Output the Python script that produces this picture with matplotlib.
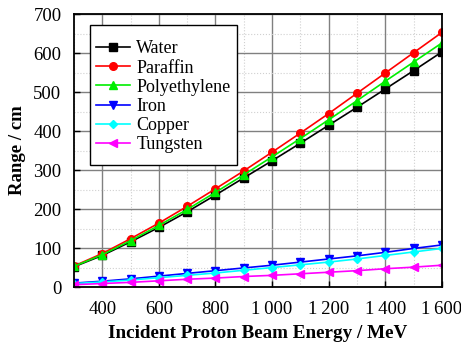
import matplotlib
matplotlib.use("Agg")
import matplotlib.pyplot as plt
from matplotlib.path import Path
from matplotlib.ticker import MultipleLocator, FuncFormatter

energy = [300, 400, 500, 600, 700, 800, 900, 1000, 1100, 1200, 1300, 1400, 1500, 1600]
water = [52, 81, 116, 153, 193, 236, 280, 324, 369, 415, 461, 508, 555, 603]
paraffin = [54, 86, 124, 164, 207, 252, 298, 346, 395, 445, 497, 549, 601, 653]
polyethylene = [53, 83, 119, 158, 199, 243, 288, 334, 381, 429, 478, 528, 577, 626]
iron = [10, 15, 21, 28, 35, 42, 49, 56, 64, 72, 80, 89, 99, 108]
copper = [9, 13, 18, 24, 30, 36, 43, 50, 57, 64, 72, 81, 90, 99]
tungsten = [6, 9, 12, 16, 20, 23, 27, 30, 34, 38, 42, 47, 51, 56]

series = [
    ("Water", water, "black", "s"),
    ("Paraffin", paraffin, "#ff0000", "o"),
    ("Polyethylene", polyethylene, "#00ee00", "^"),
    ("Iron", iron, "#0000ff", "v"),
    ("Copper", copper, "#00ffff", "D"),
    ("Tungsten", tungsten, "#ff00ff", "<"),
]

plt.rcParams['font.family'] = ['Liberation Serif', 'DejaVu Serif']
fig = plt.figure(figsize=(4.61, 3.45), dpi=100)
ax = fig.add_axes([0.1605, 0.168, 0.798, 0.791])

for name, vals, col, mk in series:
    ms = 4.5 if mk == "D" else 5.5
    ax.plot(energy, vals, color=col, marker=mk, markersize=ms, linewidth=1.2, label=name)

ax.set_xlim(300, 1600)
ax.set_ylim(0, 700)
ax.xaxis.set_major_locator(MultipleLocator(200))
ax.xaxis.set_minor_locator(MultipleLocator(100))
ax.yaxis.set_major_locator(MultipleLocator(100))
ax.yaxis.set_minor_locator(MultipleLocator(50))

def fmt(v, pos):
    v = int(round(v))
    if v >= 1000:
        return "%d\u2009%03d" % (v // 1000, v % 1000)
    return "%d" % v
ax.xaxis.set_major_formatter(FuncFormatter(fmt))

ax.grid(which='major', color='#808080', linewidth=1.0, linestyle='-')
ax.grid(which='minor', color='#d0d0d0', linewidth=0.8, linestyle=':')
ax.set_axisbelow(True)
ax.tick_params(which='major', direction='in', length=4, width=1, labelsize=13.5)
ax.tick_params(axis='x', which='major', pad=10)
ax.tick_params(axis='y', which='major', pad=9)
ax.tick_params(which='minor', direction='in', length=0)
for s in ax.spines.values():
    s.set_linewidth(1.3)

ax.set_xlabel("Incident Proton Beam Energy / MeV", fontsize=13.8, fontweight='bold', labelpad=5)
ax.set_ylabel("Range / cm", fontsize=13.5, fontweight='bold', labelpad=5)

leg = ax.legend(loc='upper left', bbox_to_anchor=(0.043, 0.927), fontsize=13,
                frameon=True, fancybox=False, edgecolor='black', framealpha=1,
                handlelength=1.9, handletextpad=0.33, labelspacing=0.12, borderpad=0.35,
                borderaxespad=0)
leg.get_frame().set_linewidth(1.0)

def tall_box(x0, y0, width, height, mutation_size):
    top, bot = 9, 5
    verts = [(x0, y0 - bot), (x0 + width, y0 - bot), (x0 + width, y0 + height + top),
             (x0, y0 + height + top), (x0, y0 - bot)]
    codes = [Path.MOVETO, Path.LINETO, Path.LINETO, Path.LINETO, Path.CLOSEPOLY]
    return Path(verts, codes)

leg.get_frame().set_boxstyle(tall_box)

fig.savefig("out.png", dpi=100)
